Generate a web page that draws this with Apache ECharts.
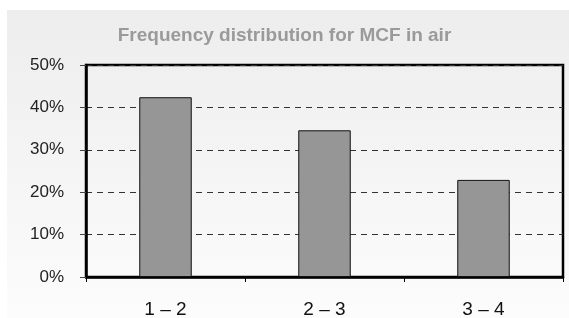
<!DOCTYPE html>
<html>
<head>
<meta charset="utf-8">
<script src="https://cdn.jsdelivr.net/npm/echarts@6/dist/echarts.min.js"></script>
<style>
  html, body { margin: 0; padding: 0; background: #fff; }
  #chart { width: 569px; height: 318px; }
</style>
</head>
<body>
<div id="chart"></div>
<script>
// data
var categories = ['1 \u2013 2', '2 \u2013 3', '3 \u2013 4'];
var frequency = [42.4, 34.6, 22.9];
var yTicks = [0, 10, 20, 30, 40, 50];

var myChart = echarts.init(document.getElementById('chart'));
var font = 'Liberation Sans, Arial, sans-serif';

var option = {
  animation: false,
  graphic: [{
    type: 'rect',
    z: -10,
    shape: { x: 7, y: 10, width: 562, height: 308 },
    style: {
      fill: new echarts.graphic.LinearGradient(0, 0, 0, 1, [
        { offset: 0, color: '#ededed' },
        { offset: 1, color: '#fcfcfc' }
      ])
    }
  }],
  title: {
    text: 'Frequency distribution for MCF in air',
    left: 'center',
    top: 21,
    textStyle: { color: '#9a9a9a', fontFamily: font, fontSize: 19, fontWeight: 'bold' }
  },
  grid: {
    left: 86, right: 6, top: 65, bottom: 41,
    outerBoundsMode: 'none',
    containLabel: false,
    show: true,
    borderColor: '#000',
    borderWidth: 2.5,
    backgroundColor: 'transparent'
  },
  xAxis: {
    type: 'category',
    data: categories,
    boundaryGap: true,
    axisLine: { lineStyle: { color: '#000', width: 2.5 } },
    axisTick: { show: true, length: 5, lineStyle: { color: '#000' } },
    axisLabel: { color: '#111', fontFamily: font, fontSize: 19, margin: 23 }
  },
  yAxis: {
    type: 'value',
    min: yTicks[0],
    max: yTicks[yTicks.length - 1],
    interval: 10,
    axisLine: { show: true, lineStyle: { color: '#000', width: 2.5 } },
    axisTick: { show: true, length: 6, lineStyle: { color: '#444' } },
    axisLabel: {
      color: '#222', fontFamily: font, fontSize: 17, margin: 22,
      formatter: '{value}%'
    },
    splitLine: { lineStyle: { color: '#333', type: [6, 5], width: 1 } }
  },
  series: [{
    type: 'bar',
    data: frequency,
    barWidth: '33%',
    itemStyle: { color: '#969696', borderColor: '#111', borderWidth: 1 }
  }]
};
myChart.setOption(option);
</script>
</body>
</html>
